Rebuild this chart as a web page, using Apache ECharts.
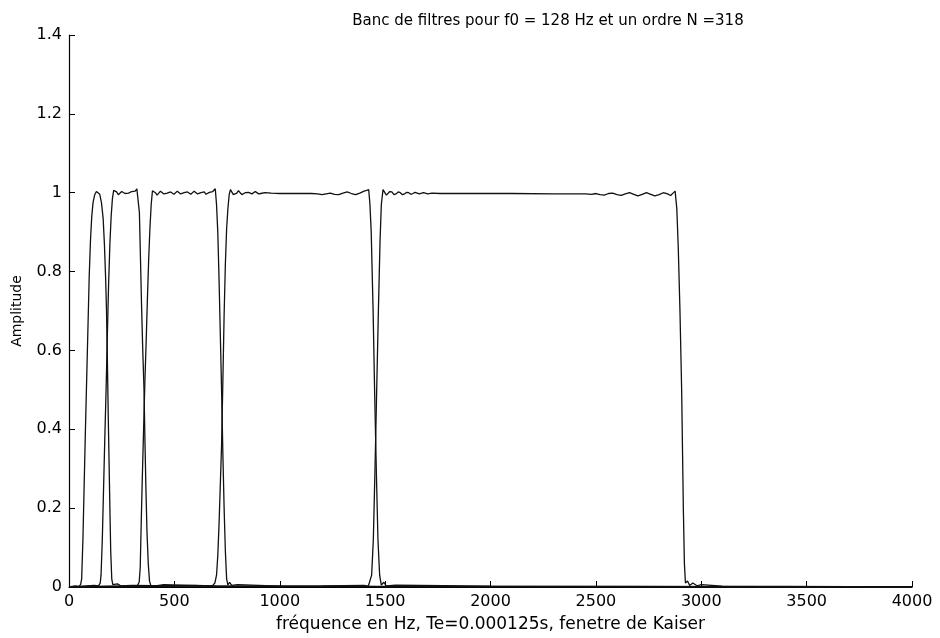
<!DOCTYPE html>
<html>
<head>
<meta charset="utf-8">
<script src="https://cdn.jsdelivr.net/npm/echarts@6/dist/echarts.min.js"></script>
<style>
  html, body { margin: 0; padding: 0; background: #ffffff; }
  #chart { width: 940px; height: 638px; }
</style>
</head>
<body>
<div id="chart"></div>
<script>
// Texts
const chartTitle = 'Banc de filtres pour f0 = 128 Hz et un ordre N =318';
const xAxisTitle = 'fréquence en Hz, Te=0.000125s, fenetre de Kaiser';
const yAxisTitle = 'Amplitude';

// Tick labels
const xTickLabels = ['0', '500', '1000', '1500', '2000', '2500', '3000', '3500', '4000'];
const yTickLabels = ['0', '0.2', '0.4', '0.6', '0.8', '1', '1.2', '1.4'];

// Magnitude responses of the five band-pass filters: [frequency (Hz), amplitude]
const filter1 = [
  [0, 0], [30, 0.003], [45, 0.001], [55, 0.006], [60, 0.02], [66, 0.12], [72, 0.26], [78, 0.4],
  [84, 0.53], [90, 0.66], [96, 0.79], [102, 0.88], [108, 0.94], [114, 0.975], [122, 0.995],
  [130, 1.003], [138, 1.004], [146, 0.996], [154, 0.975], [162, 0.935], [168, 0.87], [174, 0.78],
  [178, 0.7], [182, 0.58], [186, 0.44], [190, 0.32], [194, 0.2], [198, 0.09], [203, 0.02],
  [208, 0.006], [216, 0.002], [230, 0.008], [245, 0.003], [300, 0.004], [600, 0.002],
  [1500, 0.001], [4000, 0]
];

const filter2 = [
  [0, 0], [60, 0.002], [120, 0.004], [140, 0.003], [148, 0.01], [152, 0.03], [158, 0.12],
  [164, 0.25], [170, 0.38], [176, 0.5], [182, 0.64], [188, 0.77], [194, 0.87], [200, 0.94],
  [206, 0.985], [212, 1.006], [218, 1.009], [226, 1.002], [234, 0.995], [242, 0.996],
  [250, 1.003], [258, 1.004], [266, 0.998], [274, 0.995], [282, 0.999], [290, 1.004],
  [298, 1.003], [306, 0.999], [314, 1.004], [322, 1.01], [328, 1.006], [334, 0.95], [338, 0.86],
  [344, 0.72], [350, 0.6], [356, 0.5], [360, 0.38], [365, 0.25], [370, 0.14], [376, 0.06],
  [382, 0.015], [388, 0.004], [396, 0.009], [410, 0.003], [450, 0.006], [700, 0.002],
  [1500, 0.001], [4000, 0]
];

const filter3 = [
  [0, 0], [200, 0.002], [300, 0.003], [325, 0.004], [333, 0.012], [338, 0.05], [343, 0.17],
  [348, 0.28], [354, 0.4], [360, 0.52], [366, 0.62], [372, 0.73], [378, 0.83], [384, 0.91],
  [390, 0.97], [396, 1.005], [402, 1.008], [410, 1.0], [418, 0.994], [426, 0.997], [434, 1.004],
  [442, 1.003], [450, 0.997], [458, 0.995], [466, 0.999], [474, 1.004], [482, 1.002],
  [490, 0.997], [498, 0.996], [506, 1.0], [514, 1.004], [522, 1.002], [530, 0.997],
  [538, 0.996], [546, 1.0], [554, 1.004], [562, 1.002], [570, 0.997], [578, 0.996], [586, 1.0],
  [594, 1.004], [602, 1.002], [610, 0.997], [618, 0.996], [626, 1.0], [634, 1.004],
  [642, 1.002], [650, 0.996], [658, 0.995], [666, 1.001], [674, 1.006], [682, 1.003],
  [688, 1.008], [694, 1.01], [700, 0.97], [706, 0.9], [712, 0.78], [718, 0.64], [724, 0.5],
  [730, 0.34], [736, 0.2], [742, 0.09], [748, 0.02], [754, 0.005], [762, 0.012], [772, 0.004],
  [800, 0.006], [1000, 0.002], [4000, 0]
];

const filter4 = [
  [0, 0], [300, 0.002], [600, 0.004], [680, 0.003], [692, 0.01], [700, 0.03], [706, 0.08],
  [712, 0.16], [718, 0.26], [724, 0.36], [730, 0.52], [736, 0.69], [742, 0.82], [748, 0.91],
  [754, 0.96], [760, 0.995], [766, 1.008], [772, 1.004], [780, 0.995], [788, 0.993],
  [796, 0.999], [804, 1.005], [812, 1.002], [820, 0.995], [828, 0.995], [836, 1.0],
  [844, 1.004], [852, 1.001], [860, 0.996], [868, 0.997], [876, 1.001], [884, 1.003],
  [892, 1.0], [900, 0.997], [910, 0.998], [930, 1.0], [960, 0.999], [1000, 0.998],
  [1100, 0.998], [1150, 0.998], [1180, 0.997], [1200, 0.995], [1220, 0.997], [1240, 0.999],
  [1260, 0.996], [1280, 0.995], [1300, 0.999], [1320, 1.002], [1340, 0.998], [1360, 0.995],
  [1380, 0.999], [1400, 1.004], [1412, 1.006], [1422, 1.008], [1428, 0.97], [1434, 0.9],
  [1443, 0.7], [1450, 0.5], [1458, 0.3], [1466, 0.12], [1474, 0.03], [1482, 0.005],
  [1494, 0.012], [1505, 0.003], [1550, 0.005], [2000, 0.002], [4000, 0]
];

const filter5 = [
  [0, 0], [600, 0.002], [1200, 0.003], [1400, 0.004], [1420, 0.002], [1428, 0.005],
  [1436, 0.03], [1444, 0.12], [1452, 0.3], [1460, 0.5], [1468, 0.7], [1476, 0.88],
  [1482, 0.97], [1490, 1.008], [1498, 1.003], [1506, 0.994], [1514, 0.996], [1522, 1.003],
  [1532, 1.002], [1542, 0.995], [1552, 0.997], [1562, 1.002], [1572, 1.0], [1582, 0.995],
  [1592, 0.997], [1602, 1.001], [1612, 1.0], [1622, 0.996], [1632, 0.998], [1642, 1.001],
  [1662, 0.997], [1682, 1.0], [1702, 0.997], [1722, 0.999], [1760, 0.998], [1900, 0.998],
  [2100, 0.998], [2300, 0.997], [2450, 0.997], [2480, 0.996], [2500, 0.998], [2520, 0.995],
  [2540, 0.994], [2560, 0.998], [2580, 0.999], [2600, 0.995], [2620, 0.993], [2640, 0.997],
  [2660, 1.0], [2680, 0.996], [2700, 0.992], [2720, 0.996], [2740, 1.0], [2760, 0.996],
  [2780, 0.992], [2800, 0.995], [2820, 1.0], [2840, 0.997], [2855, 0.993], [2866, 0.999],
  [2876, 1.004], [2884, 0.96], [2891, 0.86], [2899, 0.7], [2907, 0.5], [2911, 0.35],
  [2915, 0.2], [2920, 0.06], [2925, 0.01], [2935, 0.015], [2945, 0.004], [2960, 0.01],
  [2980, 0.003], [3000, 0.006], [3100, 0.002], [4000, 0]
];

const filters = [filter1, filter2, filter3, filter4, filter5];

const sans = '"DejaVu Sans", "Liberation Sans", Arial, sans-serif';

const chart = echarts.init(document.getElementById('chart'), null, { renderer: 'canvas' });

chart.setOption({
  backgroundColor: '#ffffff',
  animation: false,
  title: {
    text: chartTitle,
    left: 543,
    top: 9,
    textAlign: 'center',
    textStyle: { fontFamily: sans, fontSize: 15, fontWeight: 'normal', color: '#000' }
  },
  grid: { left: 69, right: 28, top: 35, bottom: 51, containLabel: false },
  xAxis: {
    type: 'value',
    min: 0,
    max: 4000,
    interval: 500,
    name: xAxisTitle,
    nameLocation: 'middle',
    nameGap: 29,
    nameTextStyle: { fontFamily: sans, fontSize: 17, color: '#000' },
    axisLine: { show: true, onZero: false, lineStyle: { color: '#000', width: 1.2 } },
    axisTick: { show: true, inside: true, length: 6, lineStyle: { color: '#000', width: 1 } },
    axisLabel: {
      margin: 7,
      fontFamily: sans, fontSize: 16, color: '#000',
      formatter: (v) => xTickLabels[Math.round(v / 500)]
    },
    splitLine: { show: false }
  },
  yAxis: {
    type: 'value',
    min: 0,
    max: 1.4,
    interval: 0.2,
    name: yAxisTitle,
    nameLocation: 'middle',
    nameGap: 45,
    nameRotate: 90,
    nameTextStyle: { fontFamily: sans, fontSize: 14, color: '#000' },
    axisLine: { show: true, onZero: false, lineStyle: { color: '#000', width: 1.2 } },
    axisTick: { show: true, inside: true, length: 6, lineStyle: { color: '#000', width: 1 } },
    axisLabel: {
      margin: 7,
      fontFamily: sans, fontSize: 16, color: '#000',
      formatter: (v) => yTickLabels[Math.round(v / 0.2)]
    },
    splitLine: { show: false }
  },
  series: filters.map((f, i) => ({
    name: 'H' + (i + 1),
    type: 'line',
    data: f,
    showSymbol: false,
    smooth: false,
    clip: true,
    lineStyle: { color: '#111', width: 1.3 },
    emphasis: { disabled: true }
  }))
});
</script>
</body>
</html>
